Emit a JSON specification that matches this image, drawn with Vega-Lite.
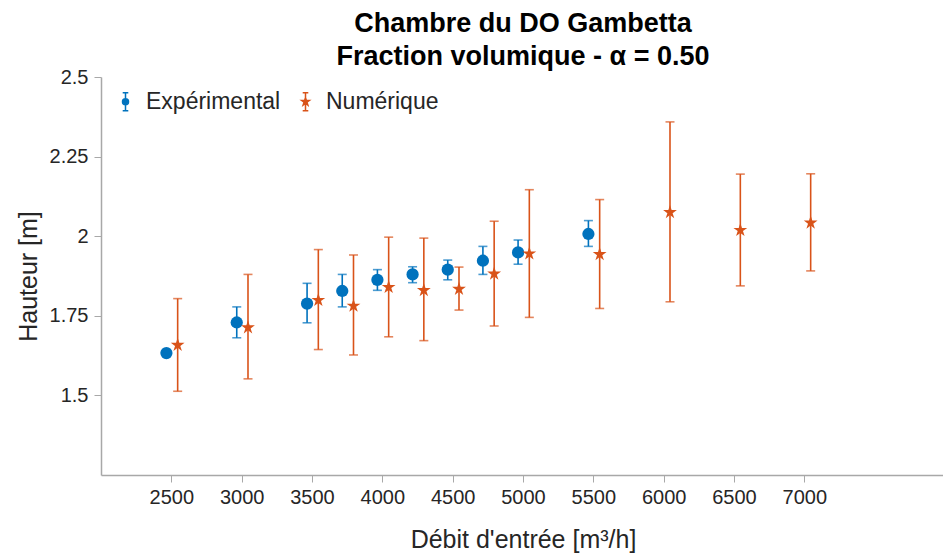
{
  "$schema": "https://vega.github.io/schema/vega-lite/v6.json",
  "autosize": "none",
  "width": 844,
  "height": 398,
  "padding": {"left": 101, "top": 77, "right": 0, "bottom": 83},
  "background": "white",
  "title": {
    "text": ["Chambre du DO Gambetta", "Fraction volumique - α = 0.50"],
    "font": "Liberation Sans",
    "fontSize": 27,
    "fontWeight": "bold",
    "color": "#000000",
    "lineHeight": 33,
    "anchor": "middle",
    "offset": -4
  },
  "config": {
    "view": {"stroke": null},
    "axis": {
      "labelFont": "Liberation Sans",
      "titleFont": "Liberation Sans",
      "labelColor": "#262626",
      "titleColor": "#262626",
      "labelFontSize": 20,
      "titleFontSize": 25,
      "titleFontWeight": "normal",
      "domainColor": "#a8a8a8",
      "tickColor": "#a8a8a8",
      "domainWidth": 1.5,
      "tickWidth": 1,
      "tickSize": 7,
      "grid": false
    },
    "legend": {
      "labelFont": "Liberation Sans",
      "labelFontSize": 23,
      "labelColor": "#262626"
    }
  },
  "data": {
    "values": [
      {"serie": "Expérimental", "debit": 2465, "hauteur": 1.633, "bas": 1.625, "haut": 1.641},
      {"serie": "Expérimental", "debit": 2965, "hauteur": 1.729, "bas": 1.681, "haut": 1.778},
      {"serie": "Expérimental", "debit": 3465, "hauteur": 1.788, "bas": 1.728, "haut": 1.852},
      {"serie": "Expérimental", "debit": 3715, "hauteur": 1.828, "bas": 1.778, "haut": 1.880},
      {"serie": "Expérimental", "debit": 3965, "hauteur": 1.863, "bas": 1.830, "haut": 1.895},
      {"serie": "Expérimental", "debit": 4215, "hauteur": 1.880, "bas": 1.854, "haut": 1.904},
      {"serie": "Expérimental", "debit": 4465, "hauteur": 1.895, "bas": 1.863, "haut": 1.925},
      {"serie": "Expérimental", "debit": 4715, "hauteur": 1.923, "bas": 1.880, "haut": 1.968},
      {"serie": "Expérimental", "debit": 4965, "hauteur": 1.949, "bas": 1.912, "haut": 1.988},
      {"serie": "Expérimental", "debit": 5465, "hauteur": 2.007, "bas": 1.968, "haut": 2.049},
      {"serie": "Numérique", "debit": 2545, "hauteur": 1.658, "bas": 1.513, "haut": 1.804},
      {"serie": "Numérique", "debit": 3045, "hauteur": 1.713, "bas": 1.552, "haut": 1.880},
      {"serie": "Numérique", "debit": 3545, "hauteur": 1.799, "bas": 1.644, "haut": 1.958},
      {"serie": "Numérique", "debit": 3795, "hauteur": 1.781, "bas": 1.627, "haut": 1.941},
      {"serie": "Numérique", "debit": 4045, "hauteur": 1.840, "bas": 1.684, "haut": 1.997},
      {"serie": "Numérique", "debit": 4295, "hauteur": 1.830, "bas": 1.672, "haut": 1.994},
      {"serie": "Numérique", "debit": 4545, "hauteur": 1.834, "bas": 1.768, "haut": 1.903},
      {"serie": "Numérique", "debit": 4795, "hauteur": 1.882, "bas": 1.718, "haut": 2.047},
      {"serie": "Numérique", "debit": 5045, "hauteur": 1.945, "bas": 1.745, "haut": 2.146},
      {"serie": "Numérique", "debit": 5545, "hauteur": 1.943, "bas": 1.773, "haut": 2.115},
      {"serie": "Numérique", "debit": 6045, "hauteur": 2.075, "bas": 1.794, "haut": 2.359},
      {"serie": "Numérique", "debit": 6545, "hauteur": 2.019, "bas": 1.844, "haut": 2.195},
      {"serie": "Numérique", "debit": 7045, "hauteur": 2.042, "bas": 1.891, "haut": 2.196}
    ]
  },
  "encoding": {
    "x": {
      "field": "debit",
      "type": "quantitative",
      "scale": {"domain": [2000, 8000], "nice": false, "zero": false},
      "axis": {
        "title": "Débit d'entrée [m³/h]",
        "values": [2500, 3000, 3500, 4000, 4500, 5000, 5500, 6000, 6500, 7000],
        "format": "d",
        "labelPadding": 5,
        "titlePadding": 20,
        "encode": {"ticks": {"update": {"y2": {"value": -7}}}}
      }
    },
    "color": {
      "field": "serie",
      "type": "nominal",
      "scale": {"domain": ["Expérimental", "Numérique"], "range": ["#0072BD", "#D95319"]},
      "legend": {
        "title": null,
        "orient": "top-left",
        "direction": "horizontal",
        "offset": 13,
        "padding": 0,
        "symbolSize": 400,
        "symbolType": "M0,-1L0,1M-0.3,-1L0.3,-1M-0.3,1L0.3,1",
        "symbolStrokeWidth": 1.5,
        "columnPadding": 13,
        "labelOffset": 9,
        "encode": {
          "symbols": {
            "update": {
              "shape": {"signal": "datum.value === 'Expérimental' ? 'M0,-0.9L0,0.9M-0.28,-0.9L0.28,-0.9M-0.28,0.9L0.28,0.9M0.3,0A0.3,0.3,0,1,1,-0.3,0A0.3,0.3,0,1,1,0.3,0Z' : 'M0,-0.9L0,0.9M-0.28,-0.9L0.28,-0.9M-0.28,0.9L0.28,0.9M0,-0.4L0.09,-0.124L0.38,-0.124L0.145,0.047L0.235,0.324L0,0.153L-0.235,0.324L-0.145,0.047L-0.38,-0.124L-0.09,-0.124Z'"},
              "fill": {"scale": "color", "field": "value"},
              "stroke": {"scale": "color", "field": "value"},
              "strokeWidth": {"value": 1.5},
              "opacity": {"value": 1}
            }
          }
        }
      }
    }
  },
  "layer": [
    {
      "mark": {"type": "rule", "strokeWidth": 1.6},
      "encoding": {
        "y": {
          "field": "bas",
          "type": "quantitative",
          "scale": {"domain": [1.25, 2.5], "nice": false, "zero": false},
          "axis": {
            "title": "Hauteur [m]",
            "values": [1.5, 1.75, 2, 2.25, 2.5],
            "format": ".2~f",
            "labelPadding": 6,
            "titlePadding": 8,
            "encode": {"ticks": {"update": {"x2": {"value": 7}}}}
          }
        },
        "y2": {"field": "haut"}
      }
    },
    {
      "mark": {"type": "tick", "orient": "horizontal", "size": 9, "thickness": 1.6},
      "encoding": {"y": {"field": "bas", "type": "quantitative"}}
    },
    {
      "mark": {"type": "tick", "orient": "horizontal", "size": 9, "thickness": 1.6},
      "encoding": {"y": {"field": "haut", "type": "quantitative"}}
    },
    {
      "transform": [{"filter": "datum.serie === 'Expérimental'"}],
      "mark": {"type": "point", "filled": true, "opacity": 1, "shape": "circle", "size": 150},
      "encoding": {"y": {"field": "hauteur", "type": "quantitative"}}
    },
    {
      "transform": [{"filter": "datum.serie === 'Numérique'"}],
      "mark": {
        "type": "point",
        "filled": true,
        "opacity": 1,
        "size": 210,
        "shape": "M0,-1L0.2245,-0.309L0.9511,-0.309L0.3633,0.118L0.5878,0.809L0,0.382L-0.5878,0.809L-0.3633,0.118L-0.9511,-0.309L-0.2245,-0.309Z"
      },
      "encoding": {"y": {"field": "hauteur", "type": "quantitative"}}
    }
  ]
}
